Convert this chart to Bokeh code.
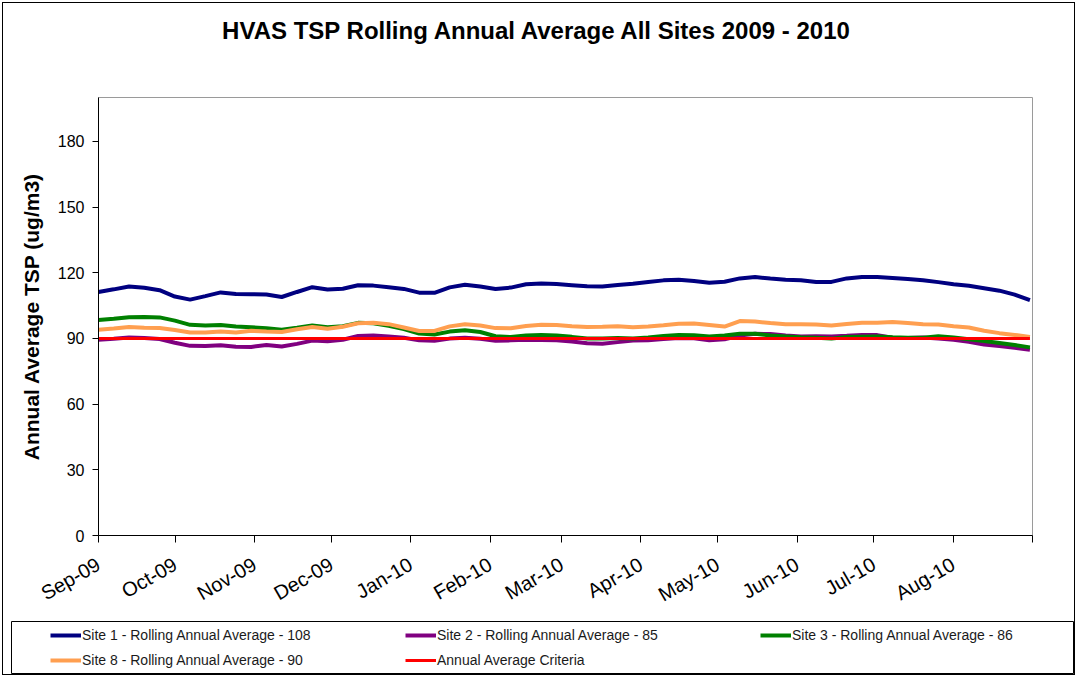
import math
import pandas as pd
from bokeh.plotting import figure
from bokeh.layouts import column
from bokeh.models import Range1d, FixedTicker, Legend, LegendItem, Label
from bokeh.embed import file_html
from bokeh.resources import INLINE

# ---------------- data ----------------
dates = pd.date_range("2009-09-01", "2010-08-31", periods=62)

site1 = [111.2, 112.4, 113.7, 113.1, 112.0, 109.1, 107.7, 109.3, 111.0, 110.3,
         110.2, 110.0, 108.9, 111.2, 113.4, 112.3, 112.7, 114.3, 114.1, 113.4,
         112.6, 110.9, 110.8, 113.3, 114.5, 113.7, 112.6, 113.2, 114.7, 115.1,
         114.8, 114.3, 113.8, 113.7, 114.4, 115.0, 115.8, 116.5, 116.8, 116.2,
         115.4, 115.9, 117.4, 118.0, 117.3, 116.8, 116.6, 115.8, 115.8, 117.4,
         118.0, 118.0, 117.6, 117.1, 116.6, 115.7, 114.7, 114.0, 112.9, 111.8,
         110.0, 107.5]

site2 = [89.4, 89.8, 90.4, 90.2, 89.7, 88.0, 86.6, 86.5, 86.9, 86.2,
         86.1, 87.0, 86.3, 87.5, 89.0, 88.7, 89.4, 91.1, 91.3, 90.9,
         90.3, 89.1, 88.9, 89.9, 90.3, 89.8, 88.9, 89.1, 89.4, 89.3,
         89.1, 88.6, 87.8, 87.6, 88.3, 89.0, 89.2, 89.7, 90.2, 90.1,
         89.1, 89.6, 91.3, 92.1, 92.0, 91.3, 90.9, 91.0, 90.9, 91.2,
         91.6, 91.5, 90.3, 90.2, 90.4, 89.9, 89.4, 88.5, 87.2, 86.5,
         85.7, 84.8]

site3 = [98.4, 99.0, 99.7, 99.8, 99.6, 98.1, 96.2, 95.9, 96.1, 95.4,
         95.1, 94.6, 94.0, 94.9, 95.9, 95.1, 95.6, 97.1, 96.9, 95.8,
         94.3, 92.2, 91.8, 93.1, 93.7, 92.9, 91.0, 90.6, 91.3, 91.5,
         91.3, 90.7, 90.0, 90.0, 90.2, 90.0, 90.4, 91.1, 91.6, 91.4,
         90.9, 91.3, 92.1, 92.1, 91.3, 90.9, 90.5, 90.3, 89.9, 90.6,
         90.8, 90.9, 90.5, 90.3, 90.3, 91.0, 90.4, 89.6, 88.8, 87.9,
         87.0, 85.9]

site8 = [93.9, 94.5, 95.2, 94.9, 94.7, 93.8, 92.7, 92.7, 93.2, 92.7,
         93.5, 93.1, 92.9, 94.2, 95.2, 94.4, 95.3, 96.9, 97.1, 96.5,
         95.0, 93.4, 93.4, 95.5, 96.5, 95.9, 94.7, 94.6, 95.7, 96.2,
         96.1, 95.5, 95.2, 95.3, 95.5, 95.1, 95.4, 96.0, 96.7, 96.8,
         96.1, 95.4, 97.9, 97.7, 97.0, 96.5, 96.5, 96.4, 95.9, 96.6,
         97.1, 97.2, 97.5, 97.0, 96.5, 96.3, 95.5, 95.0, 93.5, 92.4,
         91.6, 90.6]

criteria_dates = pd.to_datetime(["2009-09-01", "2010-08-31"])
criteria_values = [90, 90]

series_labels = ["Site 1 - Rolling Annual Average - 108",
                 "Site 2 - Rolling Annual Average - 85",
                 "Site 3 - Rolling Annual Average - 86",
                 "Site 8 - Rolling Annual Average - 90",
                 "Annual Average Criteria"]
series_colors = ["#000080", "#800080", "#008000", "#FF9F50", "#FF0000"]
series_widths = [4, 4, 4, 4, 3]

month_ticks = ["2009-09-01", "2009-10-01", "2009-11-01", "2009-12-01", "2010-01-01",
               "2010-02-01", "2010-03-01", "2010-04-01", "2010-05-01", "2010-06-01",
               "2010-07-01", "2010-08-01", "2010-09-01"]
month_labels = ["Sep-09", "Oct-09", "Nov-09", "Dec-09", "Jan-10", "Feb-10", "Mar-10",
                "Apr-10", "May-10", "Jun-10", "Jul-10", "Aug-10", ""]
y_ticks = [0, 30, 60, 90, 120, 150, 180]

title_text = "HVAS TSP Rolling Annual Average All Sites 2009 - 2010"
y_label = "Annual Average TSP (ug/m3)"

FONT = "Liberation Sans"
W = 1071

# ---------------- title strip ----------------
tf = figure(width=W, height=60, output_backend="svg", toolbar_location=None,
            x_axis_location=None, y_axis_location=None,
            x_range=Range1d(0, W), y_range=Range1d(0, 60),
            min_border_left=0, min_border_right=0, min_border_top=0, min_border_bottom=0,
            outline_line_color=None, background_fill_color="white", border_fill_color="white")
tf.frame_align = False
tf.grid.visible = False
tf.add_layout(Label(x=534, y=33, text=title_text, text_align="center", text_baseline="middle",
                    text_font=FONT, text_font_size="24px", text_font_style="bold",
                    text_color="#000000"))

# ---------------- main chart ----------------
tick_ms = [int(pd.Timestamp(m).value // 10**6) for m in month_ticks]

p = figure(width=W, height=554, output_backend="svg", toolbar_location=None,
           x_axis_type="datetime",
           x_range=Range1d(pd.Timestamp(month_ticks[0]), pd.Timestamp(month_ticks[-1])),
           y_range=Range1d(0, 200),
           min_border_left=95, min_border_right=42, min_border_top=34, min_border_bottom=80,
           background_fill_color="white", border_fill_color="white")
p.frame_align = False
p.outline_line_color = "#9a9a9a"
p.outline_line_width = 1
p.xgrid.visible = False
p.ygrid.visible = False

p.xaxis.ticker = FixedTicker(ticks=tick_ms)
p.xaxis.major_label_overrides = {t: lab for t, lab in zip(tick_ms, month_labels)}
p.xaxis.major_label_orientation = math.pi / 6
p.xaxis.major_tick_out = 7
p.xaxis.major_tick_in = 0
p.xaxis.minor_tick_out = 0
p.xaxis.minor_tick_in = 0
p.xaxis.major_label_standoff = 20
p.xaxis.major_label_text_font = FONT
p.xaxis.major_label_text_font_size = "20px"
p.xaxis.major_label_text_color = "#000000"
p.xaxis.axis_line_color = "#000000"
p.xaxis.major_tick_line_color = "#000000"

p.yaxis.ticker = FixedTicker(ticks=y_ticks)
p.yaxis.major_tick_out = 6
p.yaxis.major_tick_in = 0
p.yaxis.minor_tick_out = 0
p.yaxis.minor_tick_in = 0
p.yaxis.major_label_standoff = 8
p.yaxis.major_label_text_font = FONT
p.yaxis.major_label_text_font_size = "16px"
p.yaxis.major_label_text_color = "#000000"
p.yaxis.axis_line_color = "#000000"
p.yaxis.major_tick_line_color = "#000000"
p.yaxis.axis_label = y_label
p.yaxis.axis_label_text_font = FONT
p.yaxis.axis_label_text_font_size = "21px"
p.yaxis.axis_label_text_font_style = "bold"
p.yaxis.axis_label_text_color = "#000000"
p.yaxis.axis_label_standoff = 12

p.line(dates, site1, line_color=series_colors[0], line_width=series_widths[0])
p.line(dates, site2, line_color=series_colors[1], line_width=series_widths[1])
p.line(dates, site3, line_color=series_colors[2], line_width=series_widths[2])
p.line(dates, site8, line_color=series_colors[3], line_width=series_widths[3])
p.line(criteria_dates, criteria_values, line_color=series_colors[4], line_width=series_widths[4])

# ---------------- legend strip ----------------
lf = figure(width=W, height=57, output_backend="svg", toolbar_location=None,
            x_axis_location=None, y_axis_location=None,
            x_range=Range1d(0, 1), y_range=Range1d(0, 1),
            min_border_left=8, min_border_right=1, min_border_top=4, min_border_bottom=1,
            outline_line_color="#000000", outline_line_width=1,
            background_fill_color="white", border_fill_color="white")
lf.frame_align = False
lf.grid.visible = False
# swatch renderers lie outside the strip's ranges: only their legend glyphs show
swatches = [lf.line(x=[5, 6], y=[5, 6], line_color=c, line_width=w)
            for c, w in zip(series_colors, series_widths)]
items = [LegendItem(label=lab, renderers=[r]) for lab, r in zip(series_labels, swatches)]
leg = Legend(items=items, location=(39, 2), orientation="horizontal", ncols=3,
             padding=0, margin=0, spacing=3, glyph_width=31, glyph_height=22,
             label_standoff=1, label_width=320, label_height=22,
             label_text_font=FONT, label_text_font_size="14px", label_text_color="#1a1a1a",
             border_line_alpha=0, background_fill_alpha=0)
lf.add_layout(leg)

layout = column(tf, p, lf, spacing=0,
                styles={"border": "1px solid #000000", "margin-left": "2px", "margin-top": "2px"})
open("out.html", "w").write(file_html(layout, INLINE))
